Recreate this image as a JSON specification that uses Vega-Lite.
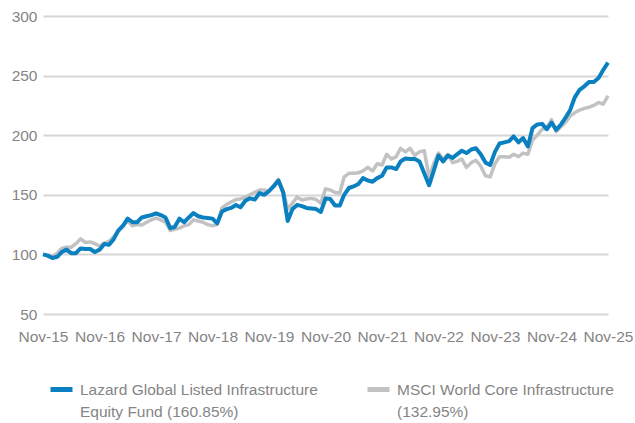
{
  "$schema": "https://vega.github.io/schema/vega-lite/v6.json",
  "width": 565,
  "height": 298,
  "autosize": "none",
  "padding": {"left": 43, "top": 16, "right": 27, "bottom": 109},
  "background": "white",
  "config": {
    "view": {"stroke": null},
    "font": "Liberation Sans",
    "axis": {
      "domain": false,
      "ticks": false,
      "labelFont": "Liberation Sans",
      "labelFontSize": 15.5,
      "labelColor": "#858585",
      "gridColor": "#d6d6d6",
      "gridWidth": 2,
      "title": null
    }
  },
  "data": {
    "values": [
      {"d": "2015-11-01", "L": 100, "M": 100},
      {"d": "2015-12-01", "L": 99, "M": 99},
      {"d": "2016-01-01", "L": 97, "M": 98},
      {"d": "2016-02-01", "L": 98, "M": 101},
      {"d": "2016-03-01", "L": 102, "M": 105},
      {"d": "2016-04-01", "L": 104, "M": 106},
      {"d": "2016-05-01", "L": 101, "M": 106},
      {"d": "2016-06-01", "L": 101, "M": 109},
      {"d": "2016-07-01", "L": 105, "M": 113},
      {"d": "2016-08-01", "L": 104.5, "M": 110},
      {"d": "2016-09-01", "L": 104.5, "M": 110.5},
      {"d": "2016-10-01", "L": 102, "M": 109},
      {"d": "2016-11-01", "L": 104, "M": 107},
      {"d": "2016-12-01", "L": 108.7, "M": 109.5},
      {"d": "2017-01-01", "L": 108, "M": 111},
      {"d": "2017-02-01", "L": 113, "M": 115},
      {"d": "2017-03-01", "L": 120, "M": 119},
      {"d": "2017-04-01", "L": 124, "M": 124},
      {"d": "2017-05-01", "L": 130, "M": 128},
      {"d": "2017-06-01", "L": 127, "M": 124},
      {"d": "2017-07-01", "L": 127, "M": 125},
      {"d": "2017-08-01", "L": 131, "M": 124.7},
      {"d": "2017-09-01", "L": 132, "M": 127},
      {"d": "2017-10-01", "L": 133, "M": 129},
      {"d": "2017-11-01", "L": 134.5, "M": 130.5},
      {"d": "2017-12-01", "L": 133, "M": 129},
      {"d": "2018-01-01", "L": 131, "M": 127},
      {"d": "2018-02-01", "L": 122, "M": 120},
      {"d": "2018-03-01", "L": 123, "M": 121},
      {"d": "2018-04-01", "L": 130, "M": 122},
      {"d": "2018-05-01", "L": 127, "M": 124},
      {"d": "2018-06-01", "L": 131, "M": 125},
      {"d": "2018-07-01", "L": 134.7, "M": 129},
      {"d": "2018-08-01", "L": 132, "M": 128},
      {"d": "2018-09-01", "L": 131, "M": 127},
      {"d": "2018-10-01", "L": 130.5, "M": 125},
      {"d": "2018-11-01", "L": 130, "M": 124},
      {"d": "2018-12-01", "L": 126, "M": 125},
      {"d": "2019-01-01", "L": 136, "M": 139},
      {"d": "2019-02-01", "L": 138, "M": 142},
      {"d": "2019-03-01", "L": 139, "M": 144},
      {"d": "2019-04-01", "L": 141.4, "M": 146},
      {"d": "2019-05-01", "L": 139.5, "M": 146.5},
      {"d": "2019-06-01", "L": 145, "M": 148},
      {"d": "2019-07-01", "L": 147, "M": 150},
      {"d": "2019-08-01", "L": 146, "M": 152},
      {"d": "2019-09-01", "L": 151.5, "M": 154},
      {"d": "2019-10-01", "L": 150, "M": 154},
      {"d": "2019-11-01", "L": 153, "M": 153},
      {"d": "2019-12-01", "L": 157, "M": 158},
      {"d": "2020-01-01", "L": 162, "M": 163},
      {"d": "2020-02-01", "L": 152, "M": 153},
      {"d": "2020-03-01", "L": 128, "M": 138},
      {"d": "2020-04-01", "L": 138, "M": 143},
      {"d": "2020-05-01", "L": 141.5, "M": 148},
      {"d": "2020-06-01", "L": 140.5, "M": 145.6},
      {"d": "2020-07-01", "L": 139, "M": 146.5},
      {"d": "2020-08-01", "L": 138.5, "M": 147},
      {"d": "2020-09-01", "L": 138, "M": 146},
      {"d": "2020-10-01", "L": 135.6, "M": 143},
      {"d": "2020-11-01", "L": 147, "M": 155},
      {"d": "2020-12-01", "L": 146.5, "M": 154},
      {"d": "2021-01-01", "L": 141, "M": 152},
      {"d": "2021-02-01", "L": 141, "M": 151.5},
      {"d": "2021-03-01", "L": 150, "M": 165},
      {"d": "2021-04-01", "L": 155.7, "M": 168},
      {"d": "2021-05-01", "L": 157, "M": 168},
      {"d": "2021-06-01", "L": 159, "M": 168.5},
      {"d": "2021-07-01", "L": 164, "M": 170},
      {"d": "2021-08-01", "L": 162, "M": 173},
      {"d": "2021-09-01", "L": 161, "M": 170},
      {"d": "2021-10-01", "L": 164, "M": 176},
      {"d": "2021-11-01", "L": 166, "M": 175},
      {"d": "2021-12-01", "L": 173, "M": 184},
      {"d": "2022-01-01", "L": 173, "M": 180},
      {"d": "2022-02-01", "L": 171.6, "M": 182},
      {"d": "2022-03-01", "L": 178, "M": 189},
      {"d": "2022-04-01", "L": 180.5, "M": 186},
      {"d": "2022-05-01", "L": 180, "M": 189},
      {"d": "2022-06-01", "L": 180, "M": 183},
      {"d": "2022-07-01", "L": 178, "M": 186},
      {"d": "2022-08-01", "L": 168, "M": 187},
      {"d": "2022-09-01", "L": 158, "M": 165},
      {"d": "2022-10-01", "L": 170, "M": 176},
      {"d": "2022-11-01", "L": 183, "M": 185},
      {"d": "2022-12-01", "L": 178, "M": 180},
      {"d": "2023-01-01", "L": 183, "M": 184},
      {"d": "2023-02-01", "L": 181, "M": 177},
      {"d": "2023-03-01", "L": 184, "M": 178},
      {"d": "2023-04-01", "L": 187, "M": 180},
      {"d": "2023-05-01", "L": 185, "M": 173},
      {"d": "2023-06-01", "L": 188, "M": 177},
      {"d": "2023-07-01", "L": 189, "M": 179},
      {"d": "2023-08-01", "L": 184, "M": 174},
      {"d": "2023-09-01", "L": 177, "M": 166},
      {"d": "2023-10-01", "L": 175, "M": 165},
      {"d": "2023-11-01", "L": 186, "M": 176},
      {"d": "2023-12-01", "L": 193, "M": 182},
      {"d": "2024-01-01", "L": 194, "M": 182},
      {"d": "2024-02-01", "L": 195, "M": 181.5},
      {"d": "2024-03-01", "L": 199, "M": 184},
      {"d": "2024-04-01", "L": 194, "M": 182},
      {"d": "2024-05-01", "L": 197.6, "M": 185},
      {"d": "2024-06-01", "L": 190.5, "M": 184},
      {"d": "2024-07-01", "L": 206, "M": 196},
      {"d": "2024-08-01", "L": 209, "M": 200},
      {"d": "2024-09-01", "L": 209.5, "M": 205},
      {"d": "2024-10-01", "L": 205, "M": 206},
      {"d": "2024-11-01", "L": 210.5, "M": 213},
      {"d": "2024-12-01", "L": 204.5, "M": 203},
      {"d": "2025-01-01", "L": 209, "M": 207},
      {"d": "2025-02-01", "L": 215, "M": 211},
      {"d": "2025-03-01", "L": 221, "M": 216},
      {"d": "2025-04-01", "L": 232, "M": 219},
      {"d": "2025-05-01", "L": 238, "M": 221},
      {"d": "2025-06-01", "L": 241, "M": 222.5},
      {"d": "2025-07-01", "L": 244.6, "M": 223.5},
      {"d": "2025-08-01", "L": 244.6, "M": 225},
      {"d": "2025-09-01", "L": 248, "M": 227.5},
      {"d": "2025-10-01", "L": 254.7, "M": 226},
      {"d": "2025-11-01", "L": 260.85, "M": 232.95}
    ]
  },
  "encoding": {
    "x": {
      "field": "d",
      "type": "temporal",
      "scale": {
        "type": "utc",
        "domain": [
          {"year": 2015, "month": 11, "date": 1, "utc": true},
          {"year": 2025, "month": 11, "date": 1, "utc": true}
        ]
      },
      "axis": {
        "grid": false,
        "labelExpr": "utcFormat(datum.value, '%b-%y')",
        "labelPadding": 15,
        "labelBaseline": "top",
        "labelFlush": false,
        "labelOverlap": false,
        "values": [
          {"year": 2015, "month": 11, "date": 1, "utc": true},
          {"year": 2016, "month": 11, "date": 1, "utc": true},
          {"year": 2017, "month": 11, "date": 1, "utc": true},
          {"year": 2018, "month": 11, "date": 1, "utc": true},
          {"year": 2019, "month": 11, "date": 1, "utc": true},
          {"year": 2020, "month": 11, "date": 1, "utc": true},
          {"year": 2021, "month": 11, "date": 1, "utc": true},
          {"year": 2022, "month": 11, "date": 1, "utc": true},
          {"year": 2023, "month": 11, "date": 1, "utc": true},
          {"year": 2024, "month": 11, "date": 1, "utc": true},
          {"year": 2025, "month": 11, "date": 1, "utc": true}
        ]
      }
    }
  },
  "layer": [
    {
      "mark": {"type": "line", "strokeWidth": 3.5, "strokeJoin": "round"},
      "encoding": {
        "y": {
          "field": "M",
          "type": "quantitative",
          "scale": {"domain": [50, 300], "nice": false},
          "axis": {"values": [50, 100, 150, 200, 250, 300], "labelPadding": 6, "grid": true}
        },
        "color": {"datum": "M"}
      }
    },
    {
      "mark": {"type": "line", "strokeWidth": 4, "strokeJoin": "round"},
      "encoding": {
        "y": {"field": "L", "type": "quantitative"},
        "color": {
          "datum": "L",
          "scale": {"domain": ["L", "M"], "range": ["#0a80c0", "#c2c2c2"]},
          "legend": {
            "title": null,
            "orient": "none",
            "legendX": 5,
            "legendY": 360,
            "direction": "horizontal",
            "columns": 2,
            "columnPadding": 39,
            "symbolType": "stroke",
            "symbolSize": 484,
            "symbolStrokeWidth": 5,
            "labelFont": "Liberation Sans",
            "labelFontSize": 15.5,
            "labelColor": "#858585",
            "labelOffset": 5,
            "labelLimit": 400,
            "labelBaseline": "middle",
            "labelExpr": "datum.value == 'L' ? ['Lazard Global Listed Infrastructure', 'Equity Fund (160.85%)'] : ['MSCI World Core Infrastructure', '(132.95%)']",
            "encode": {"labels": {"update": {"lineHeight": {"value": 22}}}}
          }
        }
      }
    }
  ]
}
